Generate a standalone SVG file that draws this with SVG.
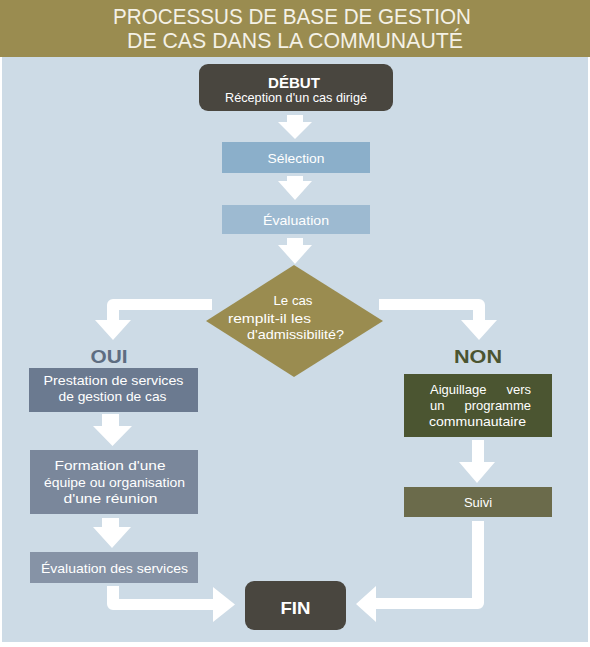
<svg xmlns="http://www.w3.org/2000/svg" width="590" height="647" viewBox="0 0 590 647">
<style>
.t{font-family:"Liberation Sans",Arial,sans-serif;font-size:13px;fill:#ffffff;text-anchor:middle}
.s{text-anchor:start}
.e{text-anchor:end}
.title{font-family:"Liberation Sans",Arial,sans-serif;font-size:22px;fill:#f4f1e6;text-anchor:middle}
.b{font-family:"Liberation Sans",Arial,sans-serif;font-weight:bold;text-anchor:middle}
.arrow{fill:#ffffff}
</style>
<rect x="0" y="0" width="590" height="647" fill="#ffffff"/>
<rect x="0" y="0" width="590" height="57" fill="#9a8c50"/>
<rect x="2" y="57" width="586" height="585" fill="#cddbe6"/>
<g id="title">
<text class="title" x="292" y="24" textLength="358" lengthAdjust="spacingAndGlyphs">PROCESSUS DE BASE DE GESTION</text>
<text class="title" x="295" y="48" textLength="336" lengthAdjust="spacingAndGlyphs">DE CAS DANS LA COMMUNAUTÉ</text>
</g>
<g id="connectors">
<path class="arrow" d="M287,115 H303 V122 H312 L295,139 L278,122 H287 Z"/>
<path class="arrow" d="M287,176 H303 V181 H312 L295,200 L278,181 H287 Z"/>
<path class="arrow" d="M287,238 H303 V245 H312 L295,264 L278,245 H287 Z"/>
<path class="arrow" d="M212,299 H113 A6,6 0 0 0 107,305 V320 H95 L113,340 L131,320 H119 V310 H212 Z"/>
<path class="arrow" d="M379,299 H479 A6,6 0 0 1 485,305 V320 H497 L479,340 L461,320 H473 V310 H379 Z"/>
<path class="arrow" d="M102,414 H119 V426 H132 L112.5,446 L93,426 H102 Z"/>
<path class="arrow" d="M102,518 H119 V527 H131 L112,548 L93,527 H102 Z"/>
<path class="arrow" d="M107,586 H119 V599 H213 V587 L235,604.5 L213,622 V610 H113 A6,6 0 0 1 107,604 Z"/>
<path class="arrow" d="M472,440 H484 V462 H495 L477,483 L459,462 H472 Z"/>
<path class="arrow" d="M472,521 H484 V603 A6,6 0 0 1 478,609 H376 V622 L356,604 L376,586 V598 H472 Z"/>
</g>
<g id="debut">
<rect x="199" y="64" width="194" height="47" rx="9" fill="#49463f"/>
<text class="b" x="294" y="88" font-size="15" fill="#ffffff" textLength="52" lengthAdjust="spacingAndGlyphs">DÉBUT</text>
<text class="t" x="296" y="102" font-size="12.5" textLength="142" lengthAdjust="spacingAndGlyphs">Réception d'un cas dirigé</text>
</g>
<g id="selection">
<rect x="222" y="142" width="148" height="31" fill="#8bafca"/>
<text class="t" x="296" y="163" textLength="57" lengthAdjust="spacingAndGlyphs">Sélection</text>
</g>
<g id="evaluation">
<rect x="222" y="205" width="148" height="29" fill="#9dbad1"/>
<text class="t" x="296" y="225" textLength="66" lengthAdjust="spacingAndGlyphs">Évaluation</text>
</g>
<g id="decision">
<polygon points="294,265 383,321 294,377 206,321" fill="#9a8c50"/>
<text class="t" x="293" y="305" textLength="39" lengthAdjust="spacingAndGlyphs">Le cas</text>
<text class="t s" x="228" y="323" textLength="83" lengthAdjust="spacingAndGlyphs">remplit-il les</text>
<text class="t s" x="247" y="339" textLength="97" lengthAdjust="spacingAndGlyphs">d'admissibilité?</text>
</g>
<g id="oui">
<text class="b" x="109" y="363" font-size="19" fill="#5e6d81" textLength="37" lengthAdjust="spacingAndGlyphs">OUI</text>
</g>
<g id="non">
<text class="b" x="478" y="363" font-size="19" fill="#4b5530" textLength="48" lengthAdjust="spacingAndGlyphs">NON</text>
</g>
<g id="prestation">
<rect x="29" y="368" width="169" height="44" fill="#6b7a90"/>
<text class="t" x="113.5" y="385" textLength="140" lengthAdjust="spacingAndGlyphs">Prestation de services</text>
<text class="t" x="112.5" y="401" textLength="108" lengthAdjust="spacingAndGlyphs">de gestion de cas</text>
</g>
<g id="formation">
<rect x="30" y="450" width="168" height="64" fill="#7a879b"/>
<text class="t" x="110" y="470" textLength="111" lengthAdjust="spacingAndGlyphs">Formation d'une</text>
<text class="t" x="114.5" y="486.5" textLength="141" lengthAdjust="spacingAndGlyphs">équipe ou organisation</text>
<text class="t" x="110.5" y="502.5" textLength="94" lengthAdjust="spacingAndGlyphs">d'une réunion</text>
</g>
<g id="evaluation-services">
<rect x="30" y="552" width="168" height="31" fill="#8693a6"/>
<text class="t" x="114.5" y="572.5" textLength="147" lengthAdjust="spacingAndGlyphs">Évaluation des services</text>
</g>
<g id="aiguillage">
<rect x="404" y="374" width="148" height="63" fill="#4b5531"/>
<text class="t s" x="430" y="394">Aiguillage</text>
<text class="t e" x="531" y="394">vers</text>
<text class="t s" x="430" y="410">un</text>
<text class="t e" x="531" y="410">programme</text>
<text class="t s" x="429" y="426" textLength="97" lengthAdjust="spacingAndGlyphs">communautaire</text>
</g>
<g id="suivi">
<rect x="404" y="487" width="148" height="30" fill="#6b6b4b"/>
<text class="t" x="478" y="507">Suivi</text>
</g>
<g id="fin">
<rect x="245" y="581" width="101" height="49" rx="9" fill="#49463f"/>
<text class="b" x="295.5" y="613.5" font-size="17" fill="#ffffff" textLength="30" lengthAdjust="spacingAndGlyphs">FIN</text>
</g>
</svg>
